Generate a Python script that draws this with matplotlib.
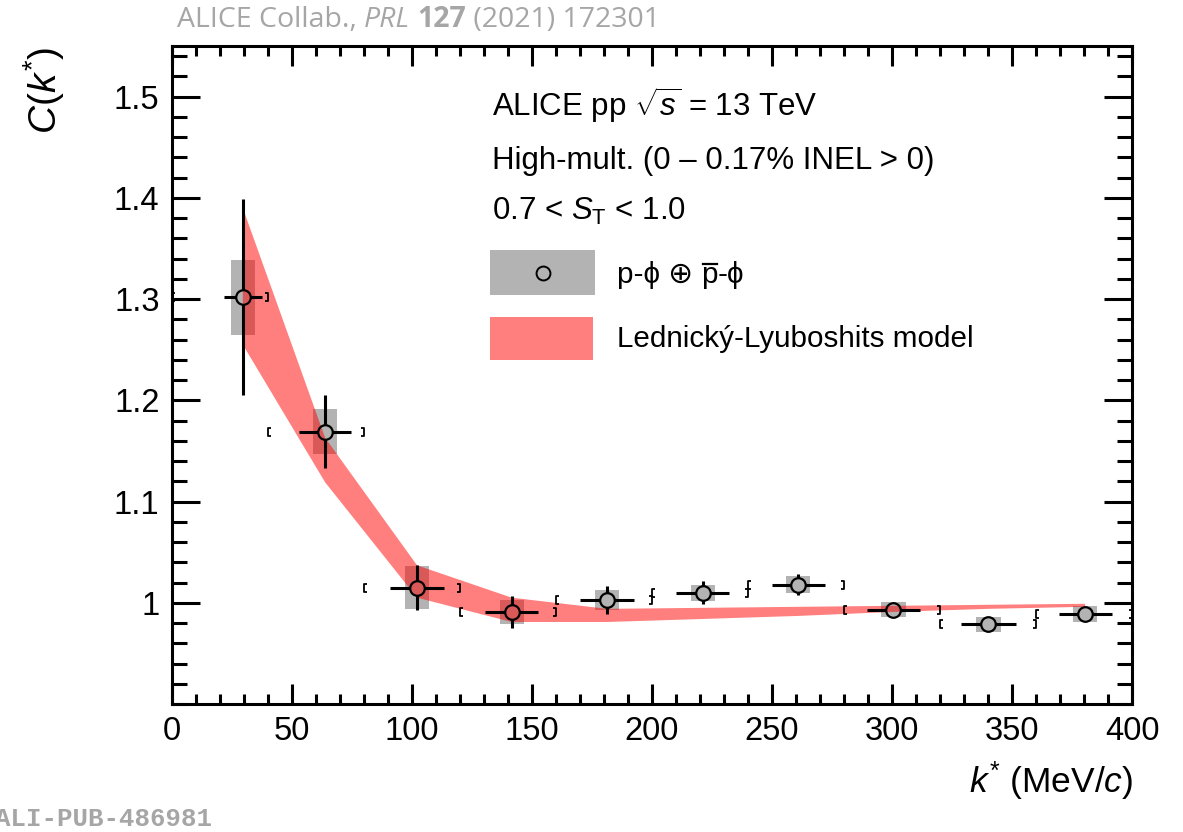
import matplotlib
matplotlib.use("Agg")
import matplotlib.pyplot as plt
from matplotlib.patches import Rectangle
from matplotlib.collections import LineCollection
from matplotlib.lines import Line2D

# ---- p-phi correlation function, pp 13 TeV high multiplicity ----
kstar = [29.5, 63.8, 102.1, 141.6, 181.3, 221.2, 260.9, 300.6, 340.2, 380.5]
cf = [1.302, 1.169, 1.015, 0.991, 1.003, 1.010, 1.018, 0.993, 0.979, 0.989]
stat_y = [0.097, 0.036, 0.022, 0.016, 0.014, 0.0115, 0.0105, 0.006, 0.006, 0.006]
stat_x = [7.8, 10.8, 11.2, 11.1, 11.3, 11.0, 11.1, 11.1, 11.3, 11.1]
syst_y = [0.037, 0.022, 0.021, 0.012, 0.010, 0.008, 0.008, 0.0074, 0.0074, 0.0077]
syst_x = [5.1, 5.1, 5.1, 5.1, 5.1, 5.1, 5.1, 5.1, 5.1, 5.1]
bin_lo = [0, 40, 80, 120, 160, 200, 240, 280, 320, 360]
bin_hi = [40, 80, 120, 160, 200, 240, 280, 320, 360, 400]

# ---- Lednicky-Lyuboshits model band ----
model_k = [29.5, 63.8, 102.1, 141.6, 181.3, 221.2, 260.9, 300.6, 340.2, 380.5]
model_lo = [1.255, 1.119, 1.005, 0.981, 0.981, 0.984, 0.987, 0.991, 0.994, 0.996]
model_hi = [1.390, 1.163, 1.037, 1.005, 0.994, 0.995, 0.996, 0.997, 0.998, 0.999]

x_ticks = [0, 50, 100, 150, 200, 250, 300, 350, 400]
y_ticks = [1.0, 1.1, 1.2, 1.3, 1.4, 1.5]
y_ticklabels = ["1", "1.1", "1.2", "1.3", "1.4", "1.5"]

W, H = 1183, 832
GREY = "#b3b3b3"
RED = "#ff0000"
BAND_ALPHA = 0.5
NOTE_GREY = "#a6a6a6"

plt.rcParams["font.family"] = ["Liberation Sans", "DejaVu Sans"]
plt.rcParams["mathtext.fontset"] = "custom"
plt.rcParams["mathtext.rm"] = "Liberation Sans"
plt.rcParams["mathtext.it"] = "Liberation Sans:italic"
plt.rcParams["mathtext.bf"] = "Liberation Sans:bold"


def fx(x):
    return x / W


def fy(y):
    return 1 - y / H


fig = plt.figure(figsize=(W / 100, H / 100), dpi=100)
ax = fig.add_axes([fx(172), fy(704), (1132 - 172) / W, (704 - 46) / H])
ax.set_xlim(0, 400)
ax.set_ylim(0.9, 1.55)

# systematic boxes
for k, c, sx, sy in zip(kstar, cf, syst_x, syst_y):
    ax.add_patch(Rectangle((k - sx, c - sy), 2 * sx, 2 * sy, facecolor=GREY,
                           edgecolor="none", zorder=1))

# marker fill
ax.plot(kstar, cf, ls="none", marker="o", ms=10.5, mfc=GREY, mec="none", zorder=2)

# model band on top of the fill
ax.fill_between(model_k, model_lo, model_hi, facecolor=RED, alpha=BAND_ALPHA,
                edgecolor="none", zorder=3)

# statistical error bars, kept outside the marker circle
fig.canvas.draw()
renderer = fig.canvas.get_renderer()
ppx = ax.transData.transform([(0, 0), (1, 1)])
px_per_x = ppx[1, 0] - ppx[0, 0]
px_per_y = ppx[1, 1] - ppx[0, 1]
r_px = 7.0
gx, gy = r_px / px_per_x, r_px / px_per_y
segs = []
for k, c, ex, ey in zip(kstar, cf, stat_x, stat_y):
    if ex > gx:
        segs += [[(k - ex, c), (k - gx, c)], [(k + gx, c), (k + ex, c)]]
    if ey > gy:
        segs += [[(k, c - ey), (k, c - gy)], [(k, c + gy), (k, c + ey)]]
ax.add_collection(LineCollection(segs, colors="black", linewidths=2.2, zorder=4,
                                 capstyle="butt"))

# bin-edge brackets
bh = 4.0 / px_per_y
bw = 3.0 / px_per_x
br = []
for lo, hi, c in zip(bin_lo, bin_hi, cf):
    br.append([(lo + bw, c - bh), (lo, c - bh), (lo, c + bh), (lo + bw, c + bh)])
    br.append([(hi - bw, c - bh), (hi, c - bh), (hi, c + bh), (hi - bw, c + bh)])
ax.add_collection(LineCollection(br, colors="black", linewidths=1.3, zorder=4))

# marker outlines
ax.plot(kstar, cf, ls="none", marker="o", ms=10.5, mfc="none", mec="black",
        mew=1.6, zorder=5)

# axes styling
for sp in ax.spines.values():
    sp.set_linewidth(2.2)
ax.set_xticks(x_ticks)
ax.set_xticks(range(0, 401, 10), minor=True)
ax.set_yticks(y_ticks)
ax.set_yticklabels(y_ticklabels)
ax.set_yticks([0.9 + 0.02 * i for i in range(33)], minor=True)
ax.tick_params(which="both", direction="in", top=True, right=True, width=2.2,
               labelsize=23.5)
ax.tick_params(axis="x", which="major", length=14.5, pad=9)
ax.tick_params(axis="x", which="minor", length=7.5)
ax.tick_params(axis="y", which="major", length=20, pad=9)
ax.tick_params(axis="y", which="minor", length=11)

# axis titles
fig.text(fx(1133), fy(793), r"$k^{*}$ (MeV/$c$)", ha="right", va="baseline",
         fontsize=25.5)
fig.text(fx(44), fy(47), r"$C(k^{*})$", ha="center", va="top", rotation=90,
         fontsize=28)

# annotations
fig.text(fx(492), fy(116), r"ALICE pp $\sqrt{s}$ = 13 TeV", fontsize=22.5,
         va="baseline")
fig.text(fx(492), fy(169), "High-mult. (0 \u2013 0.17% INEL > 0)", fontsize=22.5,
         va="baseline")
fig.text(fx(492), fy(220), r"0.7 < $S_{\mathrm{T}}$ < 1.0", fontsize=22.5,
         va="baseline")


def text_run(x_px, y_px, parts, **kw):
    """Draw consecutive text pieces on one baseline; return the artists."""
    x = fx(x_px)
    arts = []
    for s, extra in parts:
        t = fig.text(x, fy(y_px), s, va="baseline", **kw, **extra)
        bb = t.get_window_extent(renderer)
        arts.append(t)
        x += bb.width / W
    return arts


# legend
fig.add_artist(Rectangle((fx(490), fy(295)), fx(595) - fx(490), fy(250) - fy(295),
                         transform=fig.transFigure, facecolor=GREY, edgecolor="none"))
fig.add_artist(Line2D([fx(542.5)], [fy(272.5)], transform=fig.transFigure,
                      marker="o", ms=10, mfc=GREY, mec="black", mew=1.4))
fig.add_artist(Rectangle((fx(490), fy(360)), fx(593) - fx(490), fy(317) - fy(360),
                         transform=fig.transFigure, facecolor=RED,
                         alpha=BAND_ALPHA, edgecolor="none"))
leg_parts = text_run(617, 283, [("p-\u03d5 \u2295 ", {}), ("p", {}), ("-\u03d5", {})],
                     fontsize=21.3)
# overline on the antiproton symbol
pb = leg_parts[1].get_window_extent(renderer)
fig.add_artist(Line2D([pb.x0 / W + 0.001, pb.x1 / W - 0.001],
                      [fy(283 - 19.5), fy(283 - 19.5)], transform=fig.transFigure,
                      color="black", lw=1.6))
fig.text(fx(617), fy(347), "Lednický-Lyuboshits model", fontsize=21.3, va="baseline")

# reference line on top
text_run(177, 27, [("ALICE Collab., ", {}), ("PRL", {"style": "italic"}),
                   (" ", {}), ("127", {"weight": "bold"}),
                   (" (2021) 172301", {})],
         fontsize=20.5, family="Open Sans", color=NOTE_GREY)

fig.text(fx(-5), fy(826), "ALI-PUB-486981", fontsize=18.5, family="Liberation Mono",
         weight="bold", color=NOTE_GREY, va="baseline")

fig.savefig("out.png", dpi=100)
